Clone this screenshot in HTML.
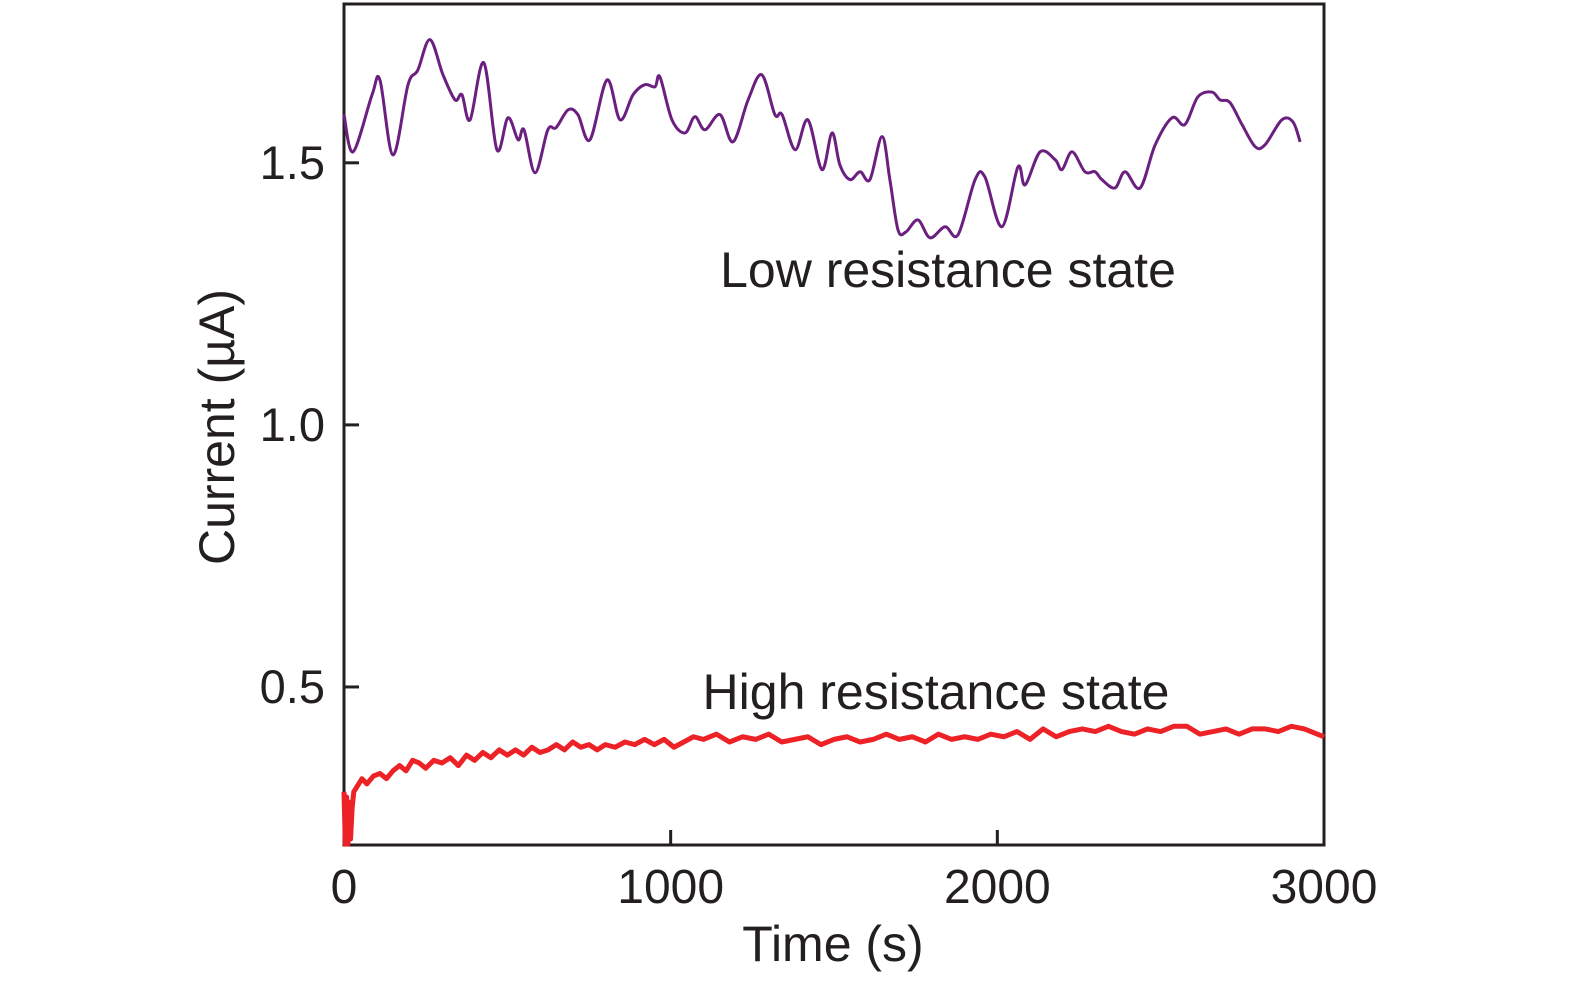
<!DOCTYPE html>
<html><head><meta charset="utf-8"><style>
html,body{margin:0;padding:0;background:#fff;}
svg text{font-family:"Liberation Sans",sans-serif;fill:#231f20;}
</style></head><body>
<svg id="chart" width="1575" height="984" viewBox="0 0 1575 984" xmlns="http://www.w3.org/2000/svg">
<g id="plot"></g>
</svg>
<script>
const xTicks=[0,1000,2000,3000];
const yTicks=[0.5,1.0,1.5];
const yTickLabels=["0.5","1.0","1.5"];
const lrsTime=[0,28,86,110,150,196,226,263,303,340,361,386,428,468,502,533,551,585,624,649,686,716,753,805,845,885,921,952,967,1004,1044,1074,1105,1151,1191,1237,1279,1319,1341,1381,1420,1463,1494,1518,1549,1580,1610,1647,1671,1696,1720,1757,1794,1840,1880,1932,1962,2014,2063,2085,2131,2177,2198,2229,2268,2299,2320,2360,2391,2437,2483,2535,2574,2614,2657,2682,2712,2749,2789,2819,2871,2905,2927];
const lrsCurrent=[1.592,1.521,1.630,1.658,1.515,1.649,1.677,1.735,1.668,1.620,1.630,1.582,1.691,1.525,1.586,1.544,1.563,1.481,1.563,1.567,1.601,1.592,1.544,1.658,1.582,1.630,1.649,1.645,1.664,1.582,1.557,1.588,1.563,1.592,1.540,1.620,1.668,1.592,1.592,1.525,1.582,1.487,1.557,1.496,1.468,1.483,1.468,1.550,1.468,1.372,1.368,1.391,1.357,1.378,1.363,1.468,1.473,1.378,1.492,1.458,1.521,1.506,1.487,1.521,1.483,1.483,1.468,1.452,1.483,1.452,1.534,1.586,1.573,1.626,1.635,1.620,1.615,1.573,1.531,1.534,1.582,1.578,1.540];
const hrsTime=[0,4,8,12,16,20,25,30,40,55,70,90,110,130,150,170,190,210,230,250,275,300,325,350,375,400,425,450,475,500,525,550,575,600,625,650,675,700,725,750,775,800,830,860,890,920,950,980,1010,1040,1070,1100,1140,1180,1220,1260,1300,1340,1380,1420,1460,1500,1540,1580,1620,1660,1700,1740,1780,1820,1860,1900,1940,1980,2020,2060,2100,2140,2180,2220,2260,2300,2340,2380,2420,2460,2500,2540,2580,2620,2660,2700,2740,2780,2820,2860,2900,2940,2980,3000];
const hrsCurrent=[0.30,0.20,0.29,0.20,0.28,0.21,0.27,0.30,0.31,0.325,0.315,0.33,0.335,0.325,0.34,0.35,0.34,0.36,0.355,0.345,0.36,0.355,0.365,0.35,0.37,0.36,0.375,0.365,0.38,0.37,0.38,0.37,0.385,0.375,0.38,0.39,0.38,0.395,0.385,0.39,0.38,0.39,0.385,0.395,0.39,0.40,0.39,0.40,0.385,0.395,0.405,0.40,0.41,0.395,0.405,0.40,0.41,0.395,0.40,0.405,0.39,0.40,0.405,0.395,0.40,0.41,0.40,0.405,0.395,0.41,0.40,0.405,0.40,0.41,0.405,0.415,0.40,0.42,0.405,0.415,0.42,0.415,0.425,0.415,0.41,0.42,0.415,0.425,0.425,0.41,0.415,0.42,0.41,0.42,0.42,0.415,0.425,0.42,0.41,0.405];
const X0=344,X1=1324,Y0=845,Y1=4;
const xMin=0,xMax=3000,yMin=0.1985,yMax=1.803;
const sx=v=>X0+(v-xMin)/(xMax-xMin)*(X1-X0);
const sy=v=>Y0-(v-yMin)/(yMax-yMin)*(Y0-Y1);
const NS="http://www.w3.org/2000/svg";
const plot=document.getElementById('plot');
function mk(tag,attrs,txt){const e=document.createElementNS(NS,tag);for(const k in attrs)e.setAttribute(k,attrs[k]);if(txt!==undefined)e.textContent=txt;plot.appendChild(e);return e;}
const box=mk('rect',{x:X0,y:Y1,width:X1-X0,height:Y0-Y1,fill:'none',stroke:'#231f20','stroke-width':3});


xTicks.forEach(t=>{
  const ln=mk('line',{x1:sx(t),x2:sx(t),y1:Y0,y2:Y0-15,stroke:'#231f20','stroke-width':3});
  
  
  const tx=mk('text',{x:sx(t),y:903,'font-size':48,'text-anchor':'middle'},String(t));
  
  
});
yTicks.forEach((t,i)=>{
  const ln=mk('line',{x1:X0,x2:X0+15,y1:sy(t),y2:sy(t),stroke:'#231f20','stroke-width':3});
  
  
  const tx=mk('text',{x:325,y:sy(t)+16,'font-size':47,'text-anchor':'end'},yTickLabels[i]);
  
  
});
function smooth(xs,ys){let d='M'+sx(xs[0])+','+sy(ys[0]);const P=xs.map((x,i)=>[sx(x),sy(ys[i])]);
for(let i=0;i<P.length-1;i++){const p0=P[Math.max(0,i-1)],p1=P[i],p2=P[i+1],p3=P[Math.min(P.length-1,i+2)];
d+=' C'+(p1[0]+(p2[0]-p0[0])/6)+','+(p1[1]+(p2[1]-p0[1])/6)+' '+(p2[0]-(p3[0]-p1[0])/6)+','+(p2[1]-(p3[1]-p1[1])/6)+' '+p2[0]+','+p2[1];}return d;}
const lrs=mk('path',{d:smooth(lrsTime,lrsCurrent),fill:'none',stroke:'#6b1f7f','stroke-width':3});


const hrs=mk('polyline',{points:hrsTime.map((t,i)=>sx(t)+','+sy(hrsCurrent[i])).join(' '),fill:'none',stroke:'#ec2227','stroke-width':5,'stroke-linejoin':'round'});


const l1=mk('text',{x:948,y:287,'font-size':50,'text-anchor':'middle'},'Low resistance state');


const l2=mk('text',{x:936,y:709,'font-size':50,'text-anchor':'middle'},'High resistance state');


const xt=mk('text',{x:833,y:961,'font-size':50,'text-anchor':'middle'},'Time (s)');


const yt=mk('text',{x:0,y:0,'font-size':50,'text-anchor':'middle',transform:'translate(234,427) rotate(-90)'},'Current (µA)');


</script>
</body></html>
